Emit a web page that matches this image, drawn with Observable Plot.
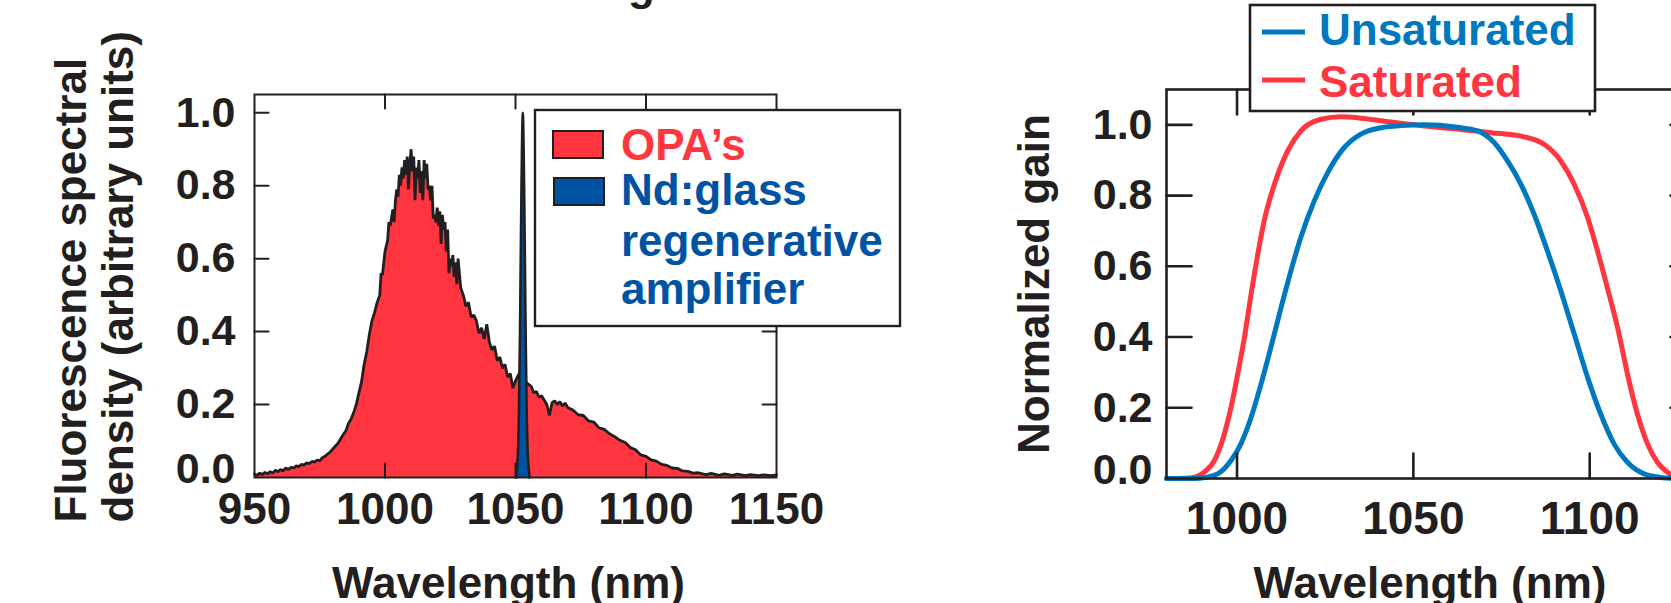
<!DOCTYPE html>
<html>
<head>
<meta charset="utf-8">
<script src="https://cdn.jsdelivr.net/npm/d3@7"></script>
<script src="https://cdn.jsdelivr.net/npm/@observablehq/plot@0.6"></script>
<style>
html,body{margin:0;padding:0;background:#fff;overflow:hidden}
#wrap{position:relative;width:1671px;height:603px;overflow:hidden;background:#fff}
#wrap svg{position:absolute;top:0}
</style>
</head>
<body>
<div id="wrap"></div>
<script>
// ---------- Left panel: fluorescence spectra ----------
const opaWavelength = [
  950,951,952,953,954,955,956,957,958,959,
  960,961,962,963,964,965,966,967,968,969,
  970,971,972,973,974,975,976,977,978,979,
  980,982,984,985,986,
  987,988,989,990,991,992,993,994,995,996,
  997,998,998.5,999,1000,1001,1001.5,1002,1003,1003.5,
  1004,1004.5,1005,1005.5,1006,1006.5,1007,1007.5,1008,1008.5,
  1009,1009.5,1010,1010.5,1011,1011.5,1012,1012.5,1013,1013.5,
  1014,1014.5,1015,1015.5,1016,1016.5,1017,1017.5,1018,1018.5,
  1019,1019.5,1020,1020.5,1021,1021.5,1022,1022.5,1023,1023.5,
  1024,1024.5,1025,1025.5,1026,1026.5,1027,1027.5,1028,1029,
  1030,1031,1032,1033,1034,1035,1036,1037,1038,1039,
  1040,1041,1042,1043,1044,1045,1046,1047,1048,1049,
  1050,1051,1052,1053,1054,1055,1056,1057,1058,1059,
  1060,1061,1062,1063,1064,1065,1066,1067,1068,1069,
  1070,1072,1074,1076,1078,1080,1082,1084,1086,1088,
  1090,1092,1094,1096,1098,1100,1102,1104,1106,1108,
  1110,1112,1114,1116,1118,1120,1123,1125,1128,1130,
  1133,1135,1138,1140,1143,1145,1148,1150
];
const opaDensity = [
  0.010,0.006,0.012,0.008,0.014,0.010,0.016,0.012,0.020,0.016,
  0.022,0.018,0.026,0.022,0.028,0.026,0.032,0.030,0.036,0.034,
  0.040,0.038,0.044,0.042,0.048,0.046,0.054,0.058,0.064,0.070,
  0.078,0.094,0.118,0.128,0.148,
  0.160,0.178,0.200,0.232,0.262,0.310,0.345,0.392,0.430,0.452,
  0.480,0.500,0.560,0.555,0.620,0.650,0.700,0.690,0.735,0.700,
  0.760,0.790,0.770,0.830,0.800,0.850,0.820,0.870,0.830,0.880,
  0.790,0.860,0.900,0.840,0.880,0.760,0.850,0.820,0.870,0.780,
  0.840,0.760,0.870,0.820,0.860,0.790,0.800,0.760,0.800,0.710,
  0.720,0.700,0.740,0.690,0.730,0.640,0.720,0.680,0.700,0.620,
  0.680,0.560,0.600,0.580,0.610,0.550,0.590,0.530,0.600,0.520,
  0.500,0.470,0.480,0.440,0.445,0.430,0.395,0.410,0.380,0.420,
  0.370,0.350,0.360,0.320,0.330,0.300,0.310,0.275,0.285,0.245,
  0.265,0.280,0.290,0.270,0.262,0.255,0.250,0.232,0.236,0.220,
  0.224,0.212,0.200,0.170,0.205,0.210,0.200,0.208,0.196,0.204,
  0.192,0.185,0.172,0.170,0.155,0.152,0.136,0.132,0.120,0.112,
  0.102,0.096,0.082,0.076,0.062,0.058,0.048,0.045,0.036,0.033,
  0.026,0.025,0.018,0.017,0.012,0.013,0.008,0.011,0.006,0.010,
  0.006,0.009,0.005,0.008,0.005,0.007,0.005,0.007
];
const ndWavelength = [1050.2,1050.8,1051.3,1051.8,1052.3,1052.8,1053.3,1053.8,1054.3,1054.8,1055.4];
const ndDensity    = [0,     0.05,  0.17,  0.45,  0.80,  1.00,  0.80,  0.45,  0.17,  0.05,  0];

const leftXTicks = [950, 1000, 1050, 1100, 1150];
const leftYTicks = [0, 0.2, 0.4, 0.6, 0.8, 1.0];

// ---------- Right panel: normalized gain ----------
const unsatWavelength = [980,988,991,994.5,998.3,1001.1,1004,1006.8,1009.6,1012.5,
  1015.3,1018.1,1021.9,1025.7,1030.4,1035.1,1040.8,1046.5,1053.1,1062.5,
  1068.2,1072.9,1076.7,1080.5,1084.2,1088,1091.8,1095.6,1099.4,1103.1,
  1106.9,1110.7,1115.4,1120,1125,1130];
const unsatGain = [0,0,0.003,0.013,0.051,0.098,0.173,0.267,0.371,0.484,
  0.588,0.682,0.785,0.865,0.936,0.974,0.992,0.998,1.000,0.993,
  0.983,0.950,0.898,0.832,0.748,0.644,0.531,0.409,0.286,0.183,
  0.098,0.046,0.013,0.003,0,0];
const satWavelength = [980,985,988,990.7,993.6,996.4,998.3,1000.2,1002.1,1004,
  1005.9,1007.7,1010.6,1014.4,1018.1,1023.8,1029.5,1035.1,1043.6,1053.1,
  1062.5,1072,1081.4,1087.1,1091.8,1095.6,1099.4,1102.2,1105,1107.9,
  1110.7,1113.5,1116.4,1119.2,1122,1124,1127,1130];
const satGain = [0,0.001,0.004,0.018,0.051,0.126,0.201,0.296,0.399,0.522,
  0.635,0.729,0.832,0.927,0.983,1.016,1.023,1.019,1.008,0.997,
  0.988,0.978,0.966,0.945,0.898,0.832,0.738,0.644,0.540,0.427,
  0.296,0.183,0.098,0.046,0.018,0.006,0.001,0];

const rightXTicks = [1000, 1050, 1100];
const rightYTicks = [0, 0.2, 0.4, 0.6, 0.8, 1.0];

// ---------- styling ----------
const FONT = "'Liberation Sans', Arial, Helvetica, sans-serif";
const INK = "#231f20";
const RED = "#ff363f";
const NAVY = "#0052a3";
const BLUE = "#0078c0";

const opa = opaWavelength.map((x, i) => ({x, y: opaDensity[i]}));
const nd = ndWavelength.map((x, i) => ({x, y: ndDensity[i]}));
const unsat = unsatWavelength.map((x, i) => ({x, y: unsatGain[i]}));
const sat = satWavelength.map((x, i) => ({x, y: satGain[i]}));

const tickShape = {draw(ctx, l) { ctx.moveTo(0, 0); ctx.lineTo(0, -l); }};
function innerTicks(xt, yt, xd, yd, len, sw) {
  const o = {length: len, anchor: "start", shape: tickShape, stroke: INK, strokeWidth: sw};
  const xi = xt.filter(d => d > xd[0] && d < xd[1]);
  const yi = yt.filter(d => d > yd[0] && d < yd[1]);
  return [
    Plot.vector(yi, {...o, y: d => d, frameAnchor: "left", rotate: 90}),
    Plot.vector(yi, {...o, y: d => d, frameAnchor: "right", rotate: -90}),
    Plot.vector(xi, {...o, x: d => d, frameAnchor: "bottom", rotate: 0}),
    Plot.vector(xi, {...o, x: d => d, frameAnchor: "top", rotate: 180})
  ];
}
// y tick labels: the 0.0 label sits a little above its tick, as in the figure
function yLabels(yt, pad, size) {
  const fmt = d => d.toFixed(1);
  return [
    Plot.axisY(yt.filter(d => d !== 0), {anchor: "left", tickSize: 0, tickPadding: pad, fontSize: size,
      tickFormat: fmt, label: null, fill: INK}),
    Plot.axisY(yt.filter(d => d === 0), {anchor: "left", tickSize: 0, tickPadding: pad, fontSize: size,
      tickFormat: fmt, label: null, fill: INK, dy: -8})
  ];
}
const svgStyle = {background: "none", maxWidth: "none", overflow: "visible",
  fontFamily: FONT, fontWeight: "bold", color: INK};

const wrap = document.getElementById("wrap");

const leftX = [950, 1150], leftY = [0, 1.05];
const left = Plot.plot({
  width: 900, height: 603,
  marginLeft: 254, marginRight: 124, marginTop: 94, marginBottom: 126,
  x: {domain: leftX}, y: {domain: leftY},
  style: svgStyle,
  marks: [
    Plot.areaY(opa, {x: "x", y: "y", fill: RED}),
    Plot.lineY(opa, {x: "x", y: "y", stroke: INK, strokeWidth: 2.8, strokeLinejoin: "miter"}),
    Plot.areaY(nd, {x: "x", y: "y", fill: NAVY, curve: "catmull-rom"}),
    Plot.lineY(nd, {x: "x", y: "y", stroke: INK, strokeWidth: 2.6, curve: "catmull-rom"}),
    Plot.frame({stroke: INK, strokeWidth: 2}),
    ...innerTicks(leftXTicks, leftYTicks, leftX, leftY, 14, 2),
    Plot.axisX(leftXTicks, {anchor: "bottom", tickSize: 0, tickPadding: 15, fontSize: 44,
      tickFormat: d => String(d), label: null, fill: INK}),
    ...yLabels(leftYTicks, 19, 43),
    Plot.text(["Wavelength (nm)"], {frameAnchor: "bottom", dx: -7, dy: 120, lineAnchor: "bottom",
      fontSize: 44, fill: INK}),
    Plot.text(["Fluorescence spectral\ndensity (arbitrary units)"], {frameAnchor: "bottom-left",
      rotate: -90, textAnchor: "start", lineAnchor: "top", lineHeight: 1.07,
      dx: -202, dy: 45, fontSize: 44, fill: INK})
  ]
});
left.style.left = "0px";
wrap.appendChild(left);

const rightX = [980, 1130], rightY = [0, 1.1];
const right = Plot.plot({
  width: 760, height: 603,
  marginLeft: 206, marginRight: 25, marginTop: 89, marginBottom: 125,
  x: {domain: rightX}, y: {domain: rightY},
  style: svgStyle,
  marks: [
    Plot.line(sat, {x: "x", y: "y", stroke: RED, strokeWidth: 5, curve: "monotone-x"}),
    Plot.line(unsat, {x: "x", y: "y", stroke: BLUE, strokeWidth: 5, curve: "monotone-x"}),
    Plot.frame({stroke: INK, strokeWidth: 2.6}),
    ...innerTicks(rightXTicks, rightYTicks, rightX, rightY, 25, 2.6),
    Plot.axisX(rightXTicks, {anchor: "bottom", tickSize: 0, tickPadding: 23, fontSize: 46,
      tickFormat: d => String(d), label: null, fill: INK}),
    ...yLabels(rightYTicks, 14, 43),
    Plot.text(["Wavelength (nm)"], {frameAnchor: "bottom", dx: -1, dy: 119, lineAnchor: "bottom",
      fontSize: 44, fill: INK}),
    Plot.text(["Normalized gain"], {frameAnchor: "left", rotate: -90, textAnchor: "middle",
      lineAnchor: "top", dx: -149, fontSize: 44, fill: INK})
  ]
});
right.style.left = "960px";
wrap.appendChild(right);

// ---------- legends & clipped title fragment ----------
const ov = d3.select(wrap).append("svg")
  .attr("width", 1671).attr("height", 603)
  .style("left", "0px").style("pointer-events", "none")
  .style("font-family", FONT).style("font-weight", "bold");

// clipped figure title (only the descender of the last letter is visible)
ov.append("text").attr("x", 628).attr("y", 0).attr("font-size", 44).attr("fill", INK).text("g");

// left legend
const lg = ov.append("g");
lg.append("rect").attr("x", 535).attr("y", 110).attr("width", 365).attr("height", 216)
  .attr("fill", "#fff").attr("stroke", INK).attr("stroke-width", 2.4);
lg.append("rect").attr("x", 553).attr("y", 131).attr("width", 50).attr("height", 27)
  .attr("fill", RED).attr("stroke", INK).attr("stroke-width", 2);
lg.append("rect").attr("x", 554).attr("y", 178).attr("width", 50).attr("height", 27)
  .attr("fill", NAVY).attr("stroke", INK).attr("stroke-width", 2);
const leftLegend = [
  {t: "OPA\u2019s", y: 160, c: RED},
  {t: "Nd:glass", y: 205, c: NAVY},
  {t: "regenerative", y: 256, c: NAVY},
  {t: "amplifier", y: 304, c: NAVY}
];
lg.selectAll("text.l").data(leftLegend).join("text")
  .attr("x", 621).attr("y", d => d.y).attr("font-size", 44).attr("fill", d => d.c).text(d => d.t);

// right legend
const rg = ov.append("g");
rg.append("rect").attr("x", 1250).attr("y", 5).attr("width", 345).attr("height", 106)
  .attr("fill", "#fff").attr("stroke", INK).attr("stroke-width", 2.6);
const rightLegend = [
  {t: "Unsaturated", y: 45, ly: 32, c: BLUE},
  {t: "Saturated", y: 97, ly: 80, c: RED}
];
rg.selectAll("line").data(rightLegend).join("line")
  .attr("x1", 1262).attr("x2", 1305).attr("y1", d => d.ly).attr("y2", d => d.ly)
  .attr("stroke", d => d.c).attr("stroke-width", 5);
rg.selectAll("text").data(rightLegend).join("text")
  .attr("x", 1319).attr("y", d => d.y).attr("font-size", 44).attr("fill", d => d.c).text(d => d.t);
</script>
</body>
</html>
